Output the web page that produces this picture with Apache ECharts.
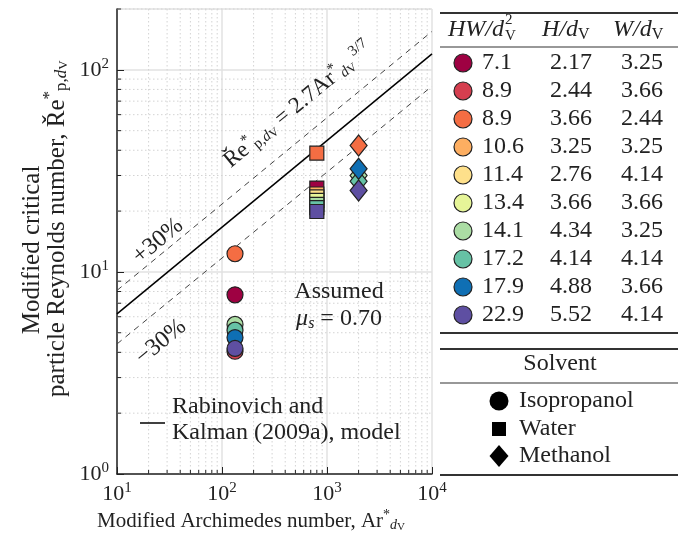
<!DOCTYPE html>
<html lang="en">
<head>
<meta charset="UTF-8">
<title></title>
<script src="https://cdn.jsdelivr.net/npm/echarts@6/dist/echarts.min.js"></script>
<style>
    html, body {margin: 0; padding: 0; background: #fff;}
    #main {width: 691px; height: 541px;}
</style>
</head>
<body>
<div id="main"></div>
<script>
var FONT = '"Liberation Serif", "DejaVu Serif", serif';

// table rows (colour, HW/dV^2, H/dV, W/dV)
var colors = ['#9e0142', '#d53e4f', '#f46d43', '#fdae61', '#fee08b', '#e6f598', '#abdda4', '#66c2a5', '#0f6fb4', '#5e4fa2'];
var hwRatio = ['7.1', '8.9', '8.9', '10.6', '11.4', '13.4', '14.1', '17.2', '17.9', '22.9'];
var hRatio = ['2.17', '2.44', '3.66', '3.25', '2.76', '3.66', '4.34', '4.14', '4.88', '5.52'];
var wRatio = ['3.25', '3.66', '2.44', '3.25', '4.14', '3.66', '3.25', '4.14', '3.66', '4.14'];

// measured points, one value per table row (null = not measured)
var arIso = 133, arWater = 800, arMeth = 2000;
var reIso = [7.7, 4.05, 12.3, null, null, null, 5.5, 5.15, 4.73, 4.18];
var reWater = [26.0, null, 38.7, 24.3, 23.5, 22.6, 21.6, 20.8, null, 19.9];
var reMeth = [null, null, 42.2, null, null, null, 30.0, 28.1, 32.4, 25.3];

// model line and +-30% band (end points)
var modelLine = [[10, 6.2], [10000, 120]];
var upperLine = [[10, 8.1], [10000, 155]];
var lowerLine = [[10, 4.4], [10000, 83]];

var solvents = ['Isopropanol', 'Water', 'Methanol'];

// minor ticks 2..9 per decade
var xMinor = [], yMinor = [];
[10, 100, 1000].forEach(function (d) {
    for (var k = 2; k <= 9; k++) xMinor.push(k * d);
});
[1, 10, 100].forEach(function (d) {
    for (var k = 2; k <= 9; k++) if (k * d <= 200) yMinor.push(k * d);
});

function points(ar, re) {
    var out = [];
    re.forEach(function (v, i) {
        if (v !== null) out.push({value: [ar, v], itemStyle: {color: colors[i]}});
    });
    return out;
}

function minorGrid(axis) {
    return function (params, api) {
        var cs = params.coordSys;
        var v = api.value(axis);
        var grid, tick;
        if (axis === 0) {
            var px = api.coord([v, 1])[0];
            grid = {x1: px, y1: cs.y, x2: px, y2: cs.y + cs.height};
            tick = {x1: px, y1: cs.y + cs.height, x2: px, y2: cs.y + cs.height - 4};
        } else {
            var py = api.coord([10, v])[1];
            grid = {x1: cs.x, y1: py, x2: cs.x + cs.width, y2: py};
            tick = {x1: cs.x, y1: py, x2: cs.x + 4, y2: py};
        }
        return {
            type: 'group', children: [
                {type: 'line', shape: grid, style: {stroke: '#d3d3d3', lineWidth: 1, lineDash: [1.5, 2.5]}},
                {type: 'line', shape: tick, style: {stroke: '#222', lineWidth: 1}}
            ]
        };
    };
}

function powLabel(v) {
    return '{b|10}{s|' + Math.round(Math.log10(v)) + '}';
}
var powRich = {
    b: {fontFamily: FONT, fontSize: 22, color: '#222'},
    s: {fontFamily: FONT, fontSize: 15, color: '#222', padding: [0, 0, 11, 0]}
};

// ---------- graphic: texts and table ----------
var measure = document.createElement('canvas').getContext('2d');
var g = [];
function txt(x, y, text, opt) {
    opt = opt || {};
    g.push({
        type: 'text', x: x, y: y, rotation: opt.rot || 0, z: 100,
        style: {
            text: text, fill: '#222', fontFamily: FONT, fontSize: opt.size || 24,
            fontStyle: opt.italic ? 'italic' : 'normal',
            textAlign: opt.align || 'left', textVerticalAlign: 'middle', rich: opt.rich
        }
    });
}
function hline(x1, x2, y, w) {
    g.push({type: 'line', z: 100, shape: {x1: x1, y1: y, x2: x2, y2: y}, style: {stroke: '#333', lineWidth: w}});
}
function mathRich(size) {
    var s = Math.round(size * 0.66);
    var down = [Math.round(size * 0.4), 0, 0, 0];
    return {
        m: {fontFamily: FONT, fontSize: size, color: '#222'},
        i: {fontFamily: FONT, fontSize: size, color: '#222', fontStyle: 'italic'},
        sup: {fontFamily: FONT, fontSize: s, color: '#222', padding: [0, 0, Math.round(size * 0.55), 0]},
        sub: {fontFamily: FONT, fontSize: s, color: '#222', padding: down},
        subi: {fontFamily: FONT, fontSize: s, color: '#222', fontStyle: 'italic', padding: down},
        subv: {fontFamily: FONT, fontSize: Math.round(s * 0.78), color: '#222', padding: [Math.round(size * 0.55), 0, 0, 0]}
    };
}

// table 1
hline(440, 678, 13, 2);
hline(440, 678, 47, 1.2);
hline(440, 678, 333, 2);
measure.font = 'italic 24px ' + FONT;
var hwW = measure.measureText('HW/d').width;
txt(448, 30, 'HW/d', {italic: true});
txt(449 + hwW, 36, 'V', {size: 15});
txt(449 + hwW, 20, '2', {size: 15});
txt(542, 30, '{i|H/d}{sub|V}', {rich: mathRich(24)});
txt(613, 30, '{i|W/d}{sub|V}', {rich: mathRich(24)});
colors.forEach(function (c, i) {
    var y = 63 + i * 28;
    g.push({type: 'circle', z: 100, shape: {cx: 463, cy: y, r: 9}, style: {fill: c, stroke: '#222', lineWidth: 1.2}});
    txt(482, y, hwRatio[i]);
    txt(592, y, hRatio[i], {align: 'right'});
    txt(663, y, wRatio[i], {align: 'right'});
});

// table 2
hline(440, 678, 349, 2);
hline(440, 678, 383, 1.2);
hline(440, 678, 475, 2);
txt(560, 364, 'Solvent', {align: 'center'});
g.push({type: 'circle', z: 100, shape: {cx: 499, cy: 401, r: 9.5}, style: {fill: '#000'}});
g.push({type: 'rect', z: 100, shape: {x: 492, y: 422, width: 14, height: 14}, style: {fill: '#000'}});
g.push({type: 'polygon', z: 100, shape: {points: [[499, 445], [508.5, 456], [499, 467], [489.5, 456]]}, style: {fill: '#000'}});
txt(519, 401, solvents[0]);
txt(519, 429, solvents[1]);
txt(519, 456, solvents[2]);

// annotations inside the plot
var ang = 39.5 * Math.PI / 180;
txt(298, 105, '{m|Ře}{sup|*}{sub|p,}{subi|d}{subv|V}{m| = 2.7Ar}{sup|*}{subi|d}{subv|V}{sup| 3/7}', {rich: mathRich(23), rot: ang, align: 'center'});
txt(158, 241, '+30%', {rot: ang, align: 'center'});
txt(161, 342, '−30%', {rot: ang, align: 'center'});
txt(339, 292, 'Assumed', {align: 'center'});
txt(339, 319, '{i|μ}{subi|s}{m| = 0.70}', {rich: mathRich(24), align: 'center'});
g.push({type: 'line', z: 100, shape: {x1: 140, y1: 423, x2: 165, y2: 423}, style: {stroke: '#000', lineWidth: 1.5}});
txt(172, 407, 'Rabinovich and');
txt(172, 433, 'Kalman (2009a), model');

// axis titles
txt(251, 521, '{m|Modified Archimedes number, Ar}{sup|*}{subi|d}{subv|V}', {rich: mathRich(21), align: 'center'});
txt(32, 250, 'Modified critical', {rot: Math.PI / 2, align: 'center', size: 25});
txt(57, 397, '{m|particle Reynolds number, Ře}{sup|*}{sub|p,}{subi|d}{subv|V}', {rich: mathRich(25), rot: Math.PI / 2, align: 'left'});

var option = {
    animation: false,
    grid: {left: 117, right: 259, top: 9, bottom: 67},
    xAxis: {
        type: 'log', logBase: 10, min: 10, max: 10000,
        axisLine: {lineStyle: {color: '#222', width: 1.5}},
        axisTick: {inside: true, length: 7, lineStyle: {color: '#222'}},
        axisLabel: {formatter: powLabel, rich: powRich, margin: 7},
        splitLine: {show: true, lineStyle: {color: '#e2e2e2', width: 1.5}}
    },
    yAxis: {
        type: 'log', logBase: 10, min: 1, max: 200,
        axisLine: {show: true, lineStyle: {color: '#222', width: 1.5}},
        axisTick: {show: true, inside: true, length: 7, lineStyle: {color: '#222'}},
        axisLabel: {formatter: powLabel, rich: powRich, margin: 8, showMaxLabel: false},
        splitLine: {show: true, lineStyle: {color: '#e2e2e2', width: 1.5}}
    },
    graphic: g,
    series: [
        {type: 'custom', renderItem: minorGrid(0), data: xMinor.map(function (v) { return [v, 1]; }), z: 1, silent: true},
        {type: 'custom', renderItem: minorGrid(1), data: yMinor.map(function (v) { return [10, v]; }), z: 1, silent: true},
        {type: 'line', data: modelLine, symbol: 'none', lineStyle: {color: '#000', width: 1.5}, z: 3},
        {type: 'line', data: upperLine, symbol: 'none', lineStyle: {color: '#444', width: 1, type: [6, 5]}, z: 3},
        {type: 'line', data: lowerLine, symbol: 'none', lineStyle: {color: '#444', width: 1, type: [6, 5]}, z: 3},
        {type: 'scatter', name: solvents[0], symbol: 'circle', symbolSize: 16, data: points(arIso, reIso),
            itemStyle: {borderColor: '#222', borderWidth: 1.2, opacity: 1}, z: 5},
        {type: 'scatter', name: solvents[1], symbol: 'rect', symbolSize: 14, data: points(arWater, reWater),
            itemStyle: {borderColor: '#222', borderWidth: 1.2, opacity: 1}, z: 5},
        {type: 'scatter', name: solvents[2], symbol: 'diamond', symbolSize: [17, 21], data: points(arMeth, reMeth),
            itemStyle: {borderColor: '#222', borderWidth: 1.2, opacity: 1}, z: 5}
    ]
};

var myChart = echarts.init(document.getElementById('main'));
myChart.setOption(option);
</script>
</body>
</html>
